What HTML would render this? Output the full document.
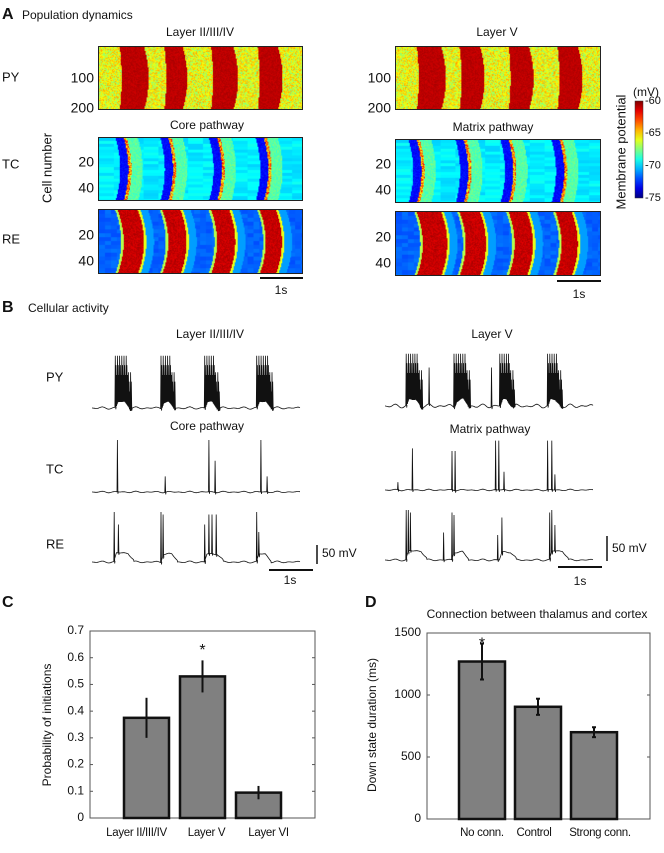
<!DOCTYPE html>
<html><head><meta charset="utf-8"><style>
body{margin:0;background:#fff;}
#root{position:relative;width:664px;height:853px;overflow:hidden;font-family:"Liberation Sans",sans-serif;}
canvas{position:absolute;border:1px solid #222;box-sizing:border-box;}
svg{position:absolute;left:0;top:0;}
</style></head><body>
<div id="root">
<svg id="svg" width="664" height="853"></svg>
</div>
<script>
// ---- Data arrays ----
const pyLeftStarts=[0.10,0.32,0.55,0.78], pyLeftWidths=[0.12,0.09,0.11,0.10];
const pyRightStarts=[0.10,0.31,0.55,0.79], pyRightWidths=[0.12,0.10,0.10,0.10];
const tcLeftWaves=[0.12,0.34,0.58,0.81];
const tcRightWaves=[0.10,0.33,0.55,0.80];
const reLeftStarts=[0.09,0.31,0.55,0.79], reLeftWidths=[0.10,0.09,0.09,0.08];
const reRightStarts=[0.10,0.31,0.55,0.78], reRightWidths=[0.12,0.10,0.09,0.08];
const cbTicks=[-60,-65,-70,-75];
const pyLeftBurstStart=[0.11,0.33,0.54,0.79], pyLeftBurstEnd=[0.19,0.40,0.61,0.87];
const pyRightBurstStart=[0.10,0.33,0.55,0.78], pyRightBurstEnd=[0.18,0.41,0.62,0.85];
const pyRightSingles=[0.21,0.51];
const tcLeftTimes=[0.12,0.35,0.56,0.59,0.81,0.84], tcLeftHeights=[1.0,0.3,1.0,0.6,1.0,0.3];
const tcRightTimes=[0.06,0.13,0.32,0.335,0.53,0.545,0.57,0.78,0.80,0.815], tcRightHeights=[0.15,0.8,0.75,0.75,0.95,0.95,0.35,0.95,0.95,0.3];
const reLeftTimes=[0.105,0.125,0.33,0.34,0.54,0.56,0.575,0.595,0.79,0.80], reLeftHeights=[1.0,0.75,1.0,0.95,0.75,0.95,0.95,0.95,1.0,0.6];
const reRightTimes=[0.10,0.11,0.12,0.28,0.32,0.33,0.54,0.56,0.79,0.80,0.815], reRightHeights=[1.0,1.0,0.95,0.55,0.95,0.9,0.5,0.85,0.95,1.0,0.7];
const cCats=["Layer II/III/IV","Layer V","Layer VI"];
const cVals=[0.375,0.53,0.095];
const cErrs=[0.075,0.06,0.025];
const cTicks=[0,0.1,0.2,0.3,0.4,0.5,0.6,0.7];
const dCats=["No conn.","Control","Strong conn."];
const dVals=[1270,905,700];
const dErrs=[145,65,40];
const dTicks=[0,500,1000,1500];

const NS="http://www.w3.org/2000/svg";
const svg=document.getElementById('svg');
const root=document.getElementById('root');
function el(tag,attrs,parent){const e=document.createElementNS(NS,tag);for(const k in attrs)e.setAttribute(k,attrs[k]);(parent||svg).appendChild(e);return e;}
function txt(x,y,s,opt,name){opt=opt||{};const t=el('text',{x:x,y:y,'font-size':opt.size||12,'text-anchor':opt.anchor||'start','dominant-baseline':'middle','font-weight':opt.weight||'normal',fill:'#111','font-family':'"Liberation Sans",sans-serif'});if(opt.ls)t.setAttribute('letter-spacing',opt.ls);if(opt.rot)t.setAttribute('transform','rotate(-90 '+x+' '+y+')');t.textContent=s;


return t;}
function hash(i,j){const v=Math.sin(i*12.9898+j*78.233)*43758.5453;return v-Math.floor(v);}
function jet(t){t=Math.max(0,Math.min(1,t));const c=v=>Math.round(255*Math.max(0,Math.min(1,v)));return [c(1.5-Math.abs(4*t-3)),c(1.5-Math.abs(4*t-2)),c(1.5-Math.abs(4*t-1))];}

function heat(name,x,y,w,h,fn){
  const c=document.createElement('canvas');c.width=w;c.height=h;c.style.left=x+'px';c.style.top=y+'px';c.style.width=w+'px';c.style.height=h+'px';
  
  
  root.appendChild(c);const ctx=c.getContext('2d');const img=ctx.createImageData(w,h);
  for(let j=0;j<h;j++)for(let i=0;i<w;i++){const t=fn(i/w,j/h,i,j);const col=jet(t);const k=(j*w+i)*4;img.data[k]=col[0];img.data[k+1]=col[1];img.data[k+2]=col[2];img.data[k+3]=255;}
  ctx.putImageData(img,0,0);
}
const bulge=yy=>0.022*(1-Math.pow(2*yy-1,2));
function pyFn(starts,widths){return (fx,fy,i,j)=>{const s=bulge(fy);for(let b=0;b<starts.length;b++){if(fx>starts[b]+s*0.4&&fx<starts[b]+widths[b]+s)return 0.92+0.04*hash(i,j);}return 0.5+0.22*hash(i,j*3+1);};}
function tcFn(waves){return (fx,fy,i,j)=>{const s=bulge(fy);const row=Math.floor(j/3);let base=0.33+0.06*hash(row,Math.floor(i/15));for(const c0 of waves){const d=fx-(c0+s);if(d>-0.04&&d<0)return 0.1+0.06*hash(i,j);if(d>=0&&d<0.015)return 0.55+0.35*hash(i,j*2);if(d>=0.015&&d<0.07)return 0.42+0.08*hash(i,j);}return base;};}
function reFn(starts,widths){return (fx,fy,i,j)=>{const s=bulge(fy)*1.3;for(let b=0;b<starts.length;b++){const a=starts[b]+s,e=starts[b]+widths[b]+s;if(fx>a&&fx<e)return 0.9+0.06*hash(i,j);if(fx>a-0.012&&fx<=a)return 0.55;if(fx>=e&&fx<e+0.012)return 0.6;if(fx>=e&&fx<e+0.05)return 0.28;}return 0.2+0.04*hash(Math.floor(i/6),Math.floor(j/4));};}

// ---- Panel A ----
txt(2,15,'A',{size:16,weight:'bold'},'panel-a-label');
txt(22,16,'Population dynamics',{size:12},'panel-a-title');
txt(200,33,'Layer II/III/IV',{size:12,anchor:'middle'},'a-left-title');
txt(497,33,'Layer V',{size:12,anchor:'middle'},'a-right-title');
txt(207,126,'Core pathway',{size:12,anchor:'middle'},'a-core-title');
txt(493,128,'Matrix pathway',{size:12,anchor:'middle'},'a-matrix-title');
txt(2,78,'PY',{size:13},'row-label-py');
txt(2,165,'TC',{size:13},'row-label-tc');
txt(2,240,'RE',{size:13},'row-label-re');
txt(48,168,'Cell number',{size:13,anchor:'middle',rot:true},'cell-number-label');
heat('heatmap-py-left',98,46,205,64,pyFn(pyLeftStarts,pyLeftWidths));
heat('heatmap-py-right',395,46,206,64,pyFn(pyRightStarts,pyRightWidths));
heat('heatmap-tc-left',98,137,205,64,tcFn(tcLeftWaves));
heat('heatmap-tc-right',395,139,206,64,tcFn(tcRightWaves));
heat('heatmap-re-left',98,209,205,65,reFn(reLeftStarts,reLeftWidths));
heat('heatmap-re-right',395,211,206,65,reFn(reRightStarts,reRightWidths));
[94,391].forEach((x,k)=>{
  const o=k?2:0;
  txt(x,79,'100',{size:14,anchor:'end'},'py-tick-100');
  txt(x,109,'200',{size:14,anchor:'end'},'py-tick-200');
  txt(x,163+o,'20',{size:14,anchor:'end'},'tc-tick-20');
  txt(x,189+o,'40',{size:14,anchor:'end'},'tc-tick-40');
  txt(x,236+o,'20',{size:14,anchor:'end'},'re-tick-20');
  txt(x,262+o,'40',{size:14,anchor:'end'},'re-tick-40');
});
el('line',{x1:260,y1:278,x2:303,y2:278,stroke:'#111','stroke-width':2,});
txt(281,291,'1s',{size:12,anchor:'middle'},'a-left-scalebar-label');
el('line',{x1:557,y1:281,x2:601,y2:281,stroke:'#111','stroke-width':2,});
txt(579,295,'1s',{size:12,anchor:'middle'},'a-right-scalebar-label');
const defs=el('defs',{});const g=el('linearGradient',{id:'jet',x1:0,y1:1,x2:0,y2:0},defs);
for(let k=0;k<=10;k++){const c=jet(k/10);el('stop',{offset:(k*10)+'%','stop-color':'rgb('+c.join(',')+')'},g);}
el('rect',{x:635,y:101,width:8,height:97,fill:'url(#jet)',stroke:'#333','stroke-width':0.5,});
cbTicks.forEach(v=>{const y=101+(-60-v)/15*97;txt(645,y,String(v),{size:11},'colorbar-tick');});
txt(633,93,'(mV)',{size:12},'colorbar-unit');
txt(622,152,'Membrane potential',{size:13,anchor:'middle',rot:true},'colorbar-title');

// ---- Panel B ----
txt(2,308,'B',{size:16,weight:'bold'},'panel-b-label');
txt(28,309,'Cellular activity',{size:12},'panel-b-title');
txt(210,335,'Layer II/III/IV',{size:12,anchor:'middle'},'b-left-title');
txt(492,335,'Layer V',{size:12,anchor:'middle'},'b-right-title');
txt(207,427,'Core pathway',{size:12,anchor:'middle'},'b-core-title');
txt(490,430,'Matrix pathway',{size:12,anchor:'middle'},'b-matrix-title');
txt(46,378,'PY',{size:13},'b-row-py');
txt(46,470,'TC',{size:13},'b-row-tc');
txt(46,545,'RE',{size:13},'b-row-re');
function drawTrace(name,x0,w,base,amp,spikes,plateaus,ripple){
  const N=600;const pts=[];
  for(let n=0;n<=N;n++){
    const t=n/N;let y=base+ripple*Math.sin(t*97)*Math.sin(t*23);
    for(const p of plateaus){if(t>=p[0]&&t<=p[1])y-=p[2]*Math.min(1,(t-p[0])*80,(p[1]-t)*30+0.2);}
    pts.push([x0+t*w,y]);
    spikes.filter(s=>s[0]>t-1/N&&s[0]<=t).forEach(s=>{const sx=x0+s[0]*w;pts.push([sx,y]);pts.push([sx+0.4,base-amp*s[1]]);pts.push([sx+0.9,y+2]);pts.push([sx+1.2,y]);});
  }
  el('polyline',{points:pts.map(p=>p[0].toFixed(1)+','+p[1].toFixed(1)).join(' '),fill:'none',stroke:'#111','stroke-width':0.8,});
}
function burstSpikes(starts,ends){const s=[];for(let b=0;b<starts.length;b++){let k=0;for(let t=starts[b];t<ends[b];t+=0.0035){s.push([t,(k%3==0?0.95:k%3==1?0.78:0.6)-(t>ends[b]-0.02?0.3:0)]);k++;}}return s;}
drawTrace('trace-py-left',92,208,408,55,burstSpikes(pyLeftBurstStart,pyLeftBurstEnd),pyLeftBurstStart.map((s,i)=>[s,pyLeftBurstEnd[i]-0.01,8]),1.2);
drawTrace('trace-py-right',385,208,406,55,burstSpikes(pyRightBurstStart,pyRightBurstEnd).concat(pyRightSingles.map(t=>[t,0.7])),pyRightBurstStart.map((s,i)=>[s,pyRightBurstEnd[i]-0.01,8]),2);
drawTrace('trace-tc-left',92,208,492,52,tcLeftTimes.map((t,i)=>[t,tcLeftHeights[i]]),[],0.8);
drawTrace('trace-tc-right',385,208,490,52,tcRightTimes.map((t,i)=>[t,tcRightHeights[i]]),[],0.8);
drawTrace('trace-re-left',92,208,562,50,reLeftTimes.map((t,i)=>[t,reLeftHeights[i]]),[[0.105,0.2,9],[0.33,0.41,8],[0.54,0.63,8],[0.79,0.86,8]],1);
drawTrace('trace-re-right',385,208,560,50,reRightTimes.map((t,i)=>[t,reRightHeights[i]]),[[0.1,0.2,9],[0.32,0.4,8],[0.55,0.63,8],[0.79,0.88,9]],1);
el('line',{x1:317,y1:545,x2:317,y2:564,stroke:'#111','stroke-width':1.5,});
txt(322,554,'50 mV',{size:12},'b-left-mv-label');
el('line',{x1:269,y1:570,x2:313,y2:570,stroke:'#111','stroke-width':2,});
txt(290,581,'1s',{size:12,anchor:'middle'},'b-left-time-label');
el('line',{x1:607,y1:536,x2:607,y2:561,stroke:'#111','stroke-width':1.5,});
txt(612,549,'50 mV',{size:12},'b-right-mv-label');
el('line',{x1:558,y1:567,x2:602,y2:567,stroke:'#111','stroke-width':2,});
txt(580,582,'1s',{size:12,anchor:'middle'},'b-right-time-label');

// ---- Bar charts ----
function barChart(p,cats,vals,errs,ticks,max,fmt,starIdx,starVal){
  const yS=v=>p.y0-(v/max)*(p.y0-p.y1);
  el('rect',{x:p.x0,y:p.y1,width:p.x1-p.x0,height:p.y0-p.y1,fill:'none',stroke:'#555','stroke-width':1,});
  ticks.forEach(v=>{const y=yS(v);txt(p.x0-6,y,fmt(v),{size:12,anchor:'end'},p.name+'-ytick');el('line',{x1:p.x0,y1:y,x2:p.x0+3,y2:y,stroke:'#555'});el('line',{x1:p.x1,y1:y,x2:p.x1-3,y2:y,stroke:'#555'});});
  cats.forEach((c,i)=>{
    const cx=p.bx0+i*p.step, bw=p.bw;
    const r=el('rect',{x:cx-bw/2,y:yS(vals[i]),width:bw,height:p.y0-yS(vals[i]),fill:'#808080',stroke:'#111','stroke-width':2.5});
    
    
    const e=el('line',{x1:cx,y1:yS(vals[i]+errs[i]),x2:cx,y2:yS(vals[i]-errs[i]),stroke:'#111','stroke-width':2});
    
    
    if(p.caps){[vals[i]+errs[i],vals[i]-errs[i]].forEach(v=>el('line',{x1:cx-2,y1:yS(v),x2:cx+2,y2:yS(v),stroke:'#111','stroke-width':2}));}
    txt(cx+(p.lblOff?p.lblOff[i]:0),833,c,{size:11.5,anchor:'middle',ls:-0.3},p.name+'-xlabel');
  });
  txt(p.bx0+starIdx*p.step,yS(starVal)+4,'*',{size:16,anchor:'middle'},p.name+'-significance-star');
}
txt(2,603,'C',{size:16,weight:'bold'},'panel-c-label');
txt(48,725,'Probability of initiations',{size:12,anchor:'middle',rot:true},'c-ylabel');
barChart({name:'c',x0:90,x1:315,y0:818,y1:631,bx0:146.5,step:56,bw:45,lblOff:[-10,4,10]},cCats,cVals,cErrs,cTicks,0.7,v=>v===0?'0':v.toFixed(1),1,0.64);
txt(365,603,'D',{size:16,weight:'bold'},'panel-d-label');
txt(537,615,'Connection between thalamus and cortex',{size:12,anchor:'middle'},'d-title');
txt(373,725,'Down state duration (ms)',{size:12,anchor:'middle',rot:true},'d-ylabel');
barChart({name:'d',x0:427,x1:650,y0:819,y1:633,bx0:482,step:56,bw:46,caps:true,lblOff:[0,-4,6]},dCats,dVals,dErrs,dTicks,1500,v=>String(v),0,1440);
</script>
</body></html>
